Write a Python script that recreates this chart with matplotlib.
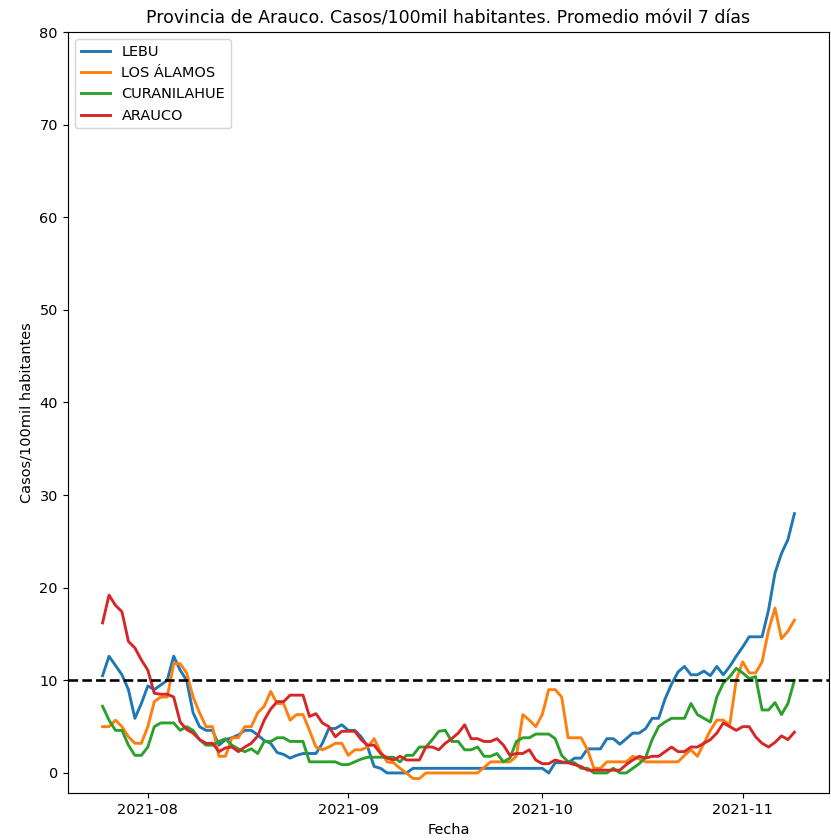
import numpy as np
import pandas as pd
import matplotlib
matplotlib.use("Agg")
import matplotlib.pyplot as plt
import matplotlib.dates as mdates

fechas = pd.date_range("2021-07-25", "2021-11-09", freq="D")

lebu = [10.5, 12.6, 11.6, 10.6, 9.0, 5.9, 7.5, 9.4, 9.0, 9.5,
        10.0, 12.6, 11.1, 10.0, 6.5, 5.0, 4.6, 4.6, 3.0, 3.6,
        3.8, 4.1, 4.6, 4.6, 4.1, 3.5, 3.2, 2.2, 2.0, 1.6,
        1.9, 2.1, 2.1, 2.1, 3.2, 4.8, 4.8, 5.2, 4.6, 4.6,
        3.9, 2.8, 0.7, 0.5, 0.0, 0.0, 0.0, 0.0, 0.5, 0.5,
        0.5, 0.5, 0.5, 0.5, 0.5, 0.5, 0.5, 0.5, 0.5, 0.5,
        0.5, 0.5, 0.5, 0.5, 0.5, 0.5, 0.5, 0.5, 0.5, 0.0,
        1.1, 1.1, 1.1, 1.6, 1.6, 2.6, 2.6, 2.6, 3.7, 3.7,
        3.1, 3.7, 4.3, 4.3, 4.8, 5.9, 5.9, 8.0, 9.6, 10.9,
        11.5, 10.6, 10.6, 11.0, 10.5, 11.5, 10.6, 11.5, 12.6, 13.6,
        14.7, 14.7, 14.7, 17.6, 21.6, 23.7, 25.2, 28.0]

los_alamos = [5.0, 5.0, 5.7, 5.0, 3.9, 3.2, 3.2, 5.0, 7.7, 8.2,
              8.2, 11.8, 11.8, 10.8, 8.2, 6.5, 5.0, 5.0, 1.8, 1.8,
              3.8, 3.8, 5.0, 5.0, 6.5, 7.2, 8.8, 7.5, 7.5, 5.7,
              6.3, 6.3, 4.6, 2.8, 2.5, 2.8, 3.2, 3.2, 1.9, 2.5,
              2.5, 2.8, 3.7, 2.3, 1.2, 1.1, 0.5, 0.0, -0.6, -0.6,
              0.0, 0.0, 0.0, 0.0, 0.0, 0.0, 0.0, 0.0, 0.0, 0.6,
              1.2, 1.2, 1.2, 1.2, 1.8, 6.3, 5.7, 5.0, 6.3, 9.0,
              9.0, 8.2, 3.8, 3.8, 3.8, 2.5, 0.5, 0.5, 1.2, 1.2,
              1.2, 1.2, 1.8, 1.5, 1.2, 1.2, 1.2, 1.2, 1.2, 1.2,
              1.9, 2.5, 1.8, 3.2, 4.6, 5.7, 5.7, 5.2, 10.0, 12.0,
              10.8, 10.8, 12.0, 15.4, 17.8, 14.5, 15.3, 16.5]

curanilahue = [7.2, 5.7, 4.6, 4.6, 3.0, 1.9, 1.9, 2.8, 5.0, 5.4,
               5.4, 5.4, 4.6, 5.0, 4.6, 3.6, 3.0, 3.0, 3.4, 3.7,
               3.0, 2.6, 2.3, 2.6, 2.1, 3.4, 3.4, 3.8, 3.8, 3.4,
               3.4, 3.4, 1.2, 1.2, 1.2, 1.2, 1.2, 0.9, 0.9, 1.2,
               1.5, 1.7, 1.7, 1.7, 1.7, 1.7, 1.2, 1.9, 1.9, 2.8,
               2.8, 3.6, 4.5, 4.6, 3.4, 3.4, 2.5, 2.5, 2.8, 1.8,
               1.8, 2.1, 1.2, 1.6, 3.4, 3.8, 3.8, 4.2, 4.2, 4.2,
               3.7, 1.9, 1.2, 1.1, 0.5, 0.5, 0.0, 0.0, 0.0, 0.5,
               0.0, 0.0, 0.5, 1.0, 1.7, 3.6, 5.0, 5.5, 5.9, 5.9,
               5.9, 7.5, 6.3, 5.9, 5.5, 8.2, 9.7, 10.4, 11.3, 10.8,
               10.2, 10.4, 6.8, 6.8, 7.6, 6.3, 7.5, 10.0]

arauco = [16.2, 19.2, 18.1, 17.4, 14.2, 13.5, 12.2, 11.1, 8.6, 8.5,
          8.5, 8.2, 5.5, 4.7, 4.3, 3.6, 3.2, 3.2, 2.3, 2.7,
          2.8, 2.3, 2.8, 3.2, 4.0, 5.7, 6.9, 7.7, 7.7, 8.4,
          8.4, 8.4, 6.1, 6.4, 5.4, 5.0, 3.9, 4.5, 4.5, 4.5,
          3.6, 3.0, 3.0, 2.1, 1.6, 1.4, 1.8, 1.4, 1.4, 1.4,
          2.8, 2.8, 2.5, 3.2, 3.7, 4.3, 5.2, 3.7, 3.7, 3.4,
          3.4, 3.7, 3.0, 1.9, 2.1, 2.1, 2.5, 1.4, 1.0, 1.0,
          1.4, 1.2, 1.1, 0.9, 0.7, 0.3, 0.3, 0.3, 0.3, 0.3,
          0.3, 0.9, 1.4, 1.8, 1.6, 1.8, 1.8, 2.3, 2.8, 2.3,
          2.3, 2.8, 2.8, 3.2, 3.6, 4.3, 5.4, 5.0, 4.6, 5.0,
          5.0, 3.9, 3.2, 2.8, 3.3, 4.0, 3.6, 4.4]

comunas = ["LEBU", "LOS ÁLAMOS", "CURANILAHUE", "ARAUCO"]
series = [lebu, los_alamos, curanilahue, arauco]

fig = plt.figure(figsize=(831 / 104, 840 / 104), dpi=104)
ax = fig.add_axes([0.0818, 0.056, 0.9158, 0.9059])

for nombre, valores in zip(comunas, series):
    ax.plot(fechas, valores, label=nombre, linewidth=2)

ax.axhline(10, color="k", linestyle="--", linewidth=1.8)
ax.set_ylim(-2.16, 80)
ax.set_yticks(np.arange(0, 81, 10))
ax.xaxis.set_major_locator(mdates.MonthLocator())
ax.xaxis.set_major_formatter(mdates.DateFormatter("%Y-%m"))
ax.set_title("Provincia de Arauco. Casos/100mil habitantes. Promedio móvil 7 días")
ax.set_xlabel("Fecha")
ax.set_ylabel("Casos/100mil habitantes")
ax.legend(loc="upper left")

fig.savefig("out.png", dpi=104)
